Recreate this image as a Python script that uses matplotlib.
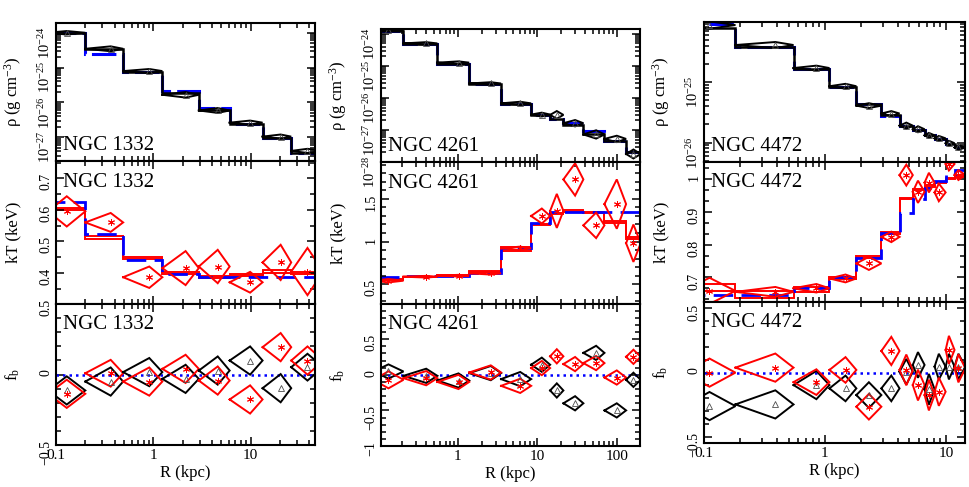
import numpy as np
import matplotlib.pyplot as plt
from matplotlib.ticker import MultipleLocator, FuncFormatter, NullFormatter, LogLocator

plt.rcParams['font.family'] = 'serif'
plt.rcParams['font.serif'] = ['Liberation Serif', 'DejaVu Serif']
plt.rcParams['mathtext.fontset'] = 'custom'
plt.rcParams['mathtext.rm'] = 'Liberation Serif'
plt.rcParams['mathtext.it'] = 'Liberation Serif:italic'

# ---- NGC 1332 ----
edges_1332 = [0.083, 0.2, 0.49, 1.24, 2.94, 6.1, 13.3, 26.2, 56]
rc_1332 = [0.129, 0.365, 0.91, 2.15, 4.6, 9.9, 20.4, 38.5]
rho_mod_1332 = [-24.0, -24.48, -25.12, -25.74, -26.22, -26.62, -27.03, -27.44]
rho_blue_1332 = [-24.0, -24.62, -25.12, -25.66, -26.15, -26.62, -27.03, -27.44]
rho_obs_1332 = [-24.0, -24.46, -25.10, -25.78, -26.23, -26.58, -26.98, -27.39]
rho_err_1332 = [0.05, 0.07, 0.06, 0.08, 0.07, 0.06, 0.06, 0.06]
kt_hi_1332 = [0.607, 0.516, 0.451, 0.403, 0.390, 0.396, 0.408, 0.403]
kt_lo_1332 = [0.600, 0.508, 0.443, 0.396, 0.383, 0.390, 0.401, 0.396]
kt_blue_1332 = [0.625, 0.523, 0.442, 0.397, 0.388, 0.388, 0.388, 0.388]
kt_obs_1332 = [0.595, 0.560, 0.386, 0.415, 0.420, 0.370, 0.433, 0.404]
kt_err_1332 = [0.048, 0.030, 0.034, 0.054, 0.053, 0.033, 0.056, 0.075]
fb_tri_1332 = [-0.113, -0.05, 0.017, -0.031, 0.028, 0.099, -0.097, 0.052]
fb_tri_err_1332 = [0.10, 0.10, 0.10, 0.10, 0.10, 0.10, 0.10, 0.095]
fb_star_1332 = [-0.137, 0.009, -0.05, 0.04, -0.043, -0.177, 0.194, 0.099]
fb_star_err_1332 = [0.10, 0.095, 0.10, 0.10, 0.10, 0.10, 0.10, 0.10]

# ---- NGC 4261 ----
edges_4261 = [0.087, 0.207, 0.553, 1.39, 3.5, 8.36, 14.5, 21.3, 38, 70, 131, 200]
rc_4261 = [0.134, 0.40, 1.02, 2.6, 6.1, 11.4, 17.6, 29.9, 55, 100, 162]
rho_mod_4261 = [-23.90, -24.32, -24.93, -25.58, -26.20, -26.54, -26.66, -26.85, -27.13, -27.33, -27.69]
rho_blue_4261 = [-23.90, -24.32, -24.93, -25.58, -26.20, -26.54, -26.66, -26.79, -27.04, -27.33, -27.69]
rho_obs_4261 = [-23.88, -24.30, -24.90, -25.55, -26.17, -26.52, -26.53, -26.79, -27.14, -27.28, -27.75]
rho_err_4261 = [0.03, 0.04, 0.04, 0.04, 0.05, 0.06, 0.12, 0.10, 0.13, 0.10, 0.14]
kt_hi_4261 = [0.555, 0.585, 0.604, 0.652, 0.93, 1.21, 1.34, 1.37, 1.35, 1.24, 1.05]
kt_lo_4261 = [0.545, 0.577, 0.596, 0.640, 0.89, 1.19, 1.32, 1.35, 1.33, 1.22, 1.03]
kt_blue_4261 = [0.579, 0.59, 0.60, 0.633, 0.92, 1.22, 1.35, 1.35, 1.35, 1.35, 1.35]
kt_obs_4261 = [0.539, 0.586, 0.598, 0.626, 0.92, 1.30, 1.36, 1.73, 1.19, 1.44, 0.98]
kt_err_4261 = [0.02, 0.01, 0.01, 0.015, 0.02, 0.088, 0.20, 0.19, 0.15, 0.29, 0.22]
fb_tri_4261 = [0.047, -0.014, -0.08, 0.024, -0.06, 0.142, -0.22, -0.40, 0.308, -0.50, -0.07]
fb_tri_err_4261 = [0.10, 0.10, 0.10, 0.10, 0.10, 0.10, 0.10, 0.10, 0.10, 0.10, 0.10]
fb_star_4261 = [-0.07, -0.047, -0.10, 0.033, -0.155, 0.095, 0.26, 0.151, 0.165, -0.038, 0.253]
fb_star_err_4261 = [0.12, 0.10, 0.10, 0.10, 0.10, 0.10, 0.10, 0.10, 0.10, 0.10, 0.10]

# ---- NGC 4472 ----
edges_4472 = [0.068, 0.182, 0.55, 1.09, 1.82, 2.93, 4.14, 5.33, 6.67, 8.07, 9.96, 11.8, 14.5]
rc_4472 = [0.111, 0.389, 0.85, 1.48, 2.31, 3.54, 4.71, 5.88, 7.24, 8.75, 10.6, 12.7]
rho_mod_4472 = [-24.11, -24.42, -24.78, -25.08, -25.37, -25.54, -25.72, -25.79, -25.88, -25.94, -26.02, -26.08]
rho_blue_4472 = [-24.05, -24.42, -24.78, -25.08, -25.37, -25.56, -25.72, -25.79, -25.88, -25.94, -26.02, -26.08]
rho_obs_4472 = [-24.06, -24.39, -24.77, -25.07, -25.39, -25.52, -25.72, -25.78, -25.88, -25.93, -26.01, -26.08]
rho_err_4472 = [0.06, 0.05, 0.04, 0.04, 0.04, 0.04, 0.05, 0.05, 0.04, 0.04, 0.04, 0.04]
kt_hi_4472 = [0.679, 0.658, 0.672, 0.700, 0.765, 0.838, 0.944, 0.971, 0.982, 0.992, 1.005, 1.012]
kt_lo_4472 = [0.660, 0.638, 0.655, 0.695, 0.760, 0.833, 0.940, 0.967, 0.978, 0.988, 1.001, 1.008]
kt_blue_4472 = [0.647, 0.647, 0.667, 0.70, 0.761, 0.837, 0.898, 0.939, 0.972, 0.996, 1.016, 1.03]
kt_obs_4472 = [0.659, 0.656, 0.667, 0.697, 0.743, 0.824, 1.013, 0.962, 0.99, 0.96, 1.047, 1.013]
kt_err_4472 = [0.04, 0.015, 0.013, 0.012, 0.02, 0.016, 0.032, 0.034, 0.03, 0.027, 0.02, 0.015]
fb_tri_4472 = [-0.262, -0.249, -0.098, -0.124, -0.176, -0.124, 0.006, 0.059, -0.131, 0.046, 0.046, 0.046]
fb_tri_err_4472 = [0.11, 0.11, 0.11, 0.10, 0.10, 0.10, 0.10, 0.10, 0.12, 0.10, 0.10, 0.10]
fb_star_4472 = [-0.001, 0.038, -0.075, 0.02, -0.267, 0.168, 0.02, -0.098, -0.176, -0.15, 0.176, 0.033]
fb_star_err_4472 = [0.11, 0.11, 0.10, 0.10, 0.10, 0.11, 0.12, 0.12, 0.12, 0.11, 0.11, 0.11]

galaxies = [
    dict(name='NGC 1332', edges=edges_1332, rc=rc_1332,
         rho_mod=rho_mod_1332, rho_blue=rho_blue_1332, rho_obs=rho_obs_1332, rho_err=rho_err_1332,
         kt_hi=kt_hi_1332, kt_lo=kt_lo_1332, kt_blue=kt_blue_1332, kt_obs=kt_obs_1332, kt_err=kt_err_1332,
         fb_tri=fb_tri_1332, fb_tri_err=fb_tri_err_1332, fb_star=fb_star_1332, fb_star_err=fb_star_err_1332,
         xlim=(0.1, 46), rholim=(-27.68, -23.72), ktlim=(0.301, 0.755), ktmaj=0.1, ktmin=0.05,
         fblim=(-0.5, 0.5), cols=(56, 315), rows=(23, 161, 304, 445)),
    dict(name='NGC 4261', edges=edges_4261, rc=rc_4261,
         rho_mod=rho_mod_4261, rho_blue=rho_blue_4261, rho_obs=rho_obs_4261, rho_err=rho_err_4261,
         kt_hi=kt_hi_4261, kt_lo=kt_lo_4261, kt_blue=kt_blue_4261, kt_obs=kt_obs_4261, kt_err=kt_err_4261,
         fb_tri=fb_tri_4261, fb_tri_err=fb_tri_err_4261, fb_star=fb_star_4261, fb_star_err=fb_star_err_4261,
         xlim=(0.108, 196), rholim=(-28.0, -23.85), ktlim=(0.265, 1.935), ktmaj=0.5, ktmin=0.1,
         fblim=(-1.0, 0.995), cols=(381, 640), rows=(29, 162, 304, 446)),
    dict(name='NGC 4472', edges=edges_4472, rc=rc_4472,
         rho_mod=rho_mod_4472, rho_blue=rho_blue_4472, rho_obs=rho_obs_4472, rho_err=rho_err_4472,
         kt_hi=kt_hi_4472, kt_lo=kt_lo_4472, kt_blue=kt_blue_4472, kt_obs=kt_obs_4472, kt_err=kt_err_4472,
         fb_tri=fb_tri_4472, fb_tri_err=fb_tri_err_4472, fb_star=fb_star_4472, fb_star_err=fb_star_err_4472,
         xlim=(0.1, 14.4), rholim=(-26.32, -24.01), ktlim=(0.625, 1.053), ktmaj=0.1, ktmin=0.1 / 3,
         fblim=(-0.55, 0.55), cols=(704, 965), rows=(22, 162, 302, 443)),
]

RED = '#ff0000'
BLUE = '#0000ff'
W, H = 969, 487
num_fmt = FuncFormatter(lambda v, p: ('%g' % v).replace('-', '\u2212'))


def diamond(ax, lo, c, hi, y, e, color, log=False):
    if log:
        ys = [10**y, 10**(y + e), 10**y, 10**(y - e), 10**y]
    else:
        ys = [y, y + e, y, y - e, y]
    ax.plot([lo, c, hi, c, lo], ys, color=color, lw=1.4, solid_joinstyle='miter')


def style(ax, g, ysize=10):
    ax.set_xscale('log')
    ax.set_xlim(*g['xlim'])
    ax.xaxis.set_major_formatter(num_fmt)
    ax.xaxis.set_minor_formatter(NullFormatter())
    ax.tick_params(which='both', direction='in', top=True, right=True, width=1.1)
    ax.tick_params(which='major', length=6)
    ax.tick_params(which='minor', length=3.5)
    ax.tick_params(axis='x', labelsize=11, pad=3)
    ax.tick_params(axis='y', labelrotation=90, labelsize=ysize, pad=2.5)
    for s in ax.spines.values():
        s.set_linewidth(1.5)


def ylab(ax, text, width):
    ax.set_ylabel(text, fontsize=12, va='center')
    ax.yaxis.set_label_coords(-43 / width, 0.5)


fig = plt.figure(figsize=(9.69, 4.87), dpi=100)

for g in galaxies:
    x0, x1 = g['cols']
    r0, r1, r2, r3 = g['rows']
    edges = g['edges']
    n = len(g['rc'])
    wpx = x1 - x0

    # density
    ax = fig.add_axes([x0 / W, 1 - r1 / H, wpx / W, (r1 - r0) / H])
    style(ax, g, ysize=10.5)
    ax.set_yscale('log')
    ax.set_ylim(10**g['rholim'][0], 10**g['rholim'][1])
    ax.yaxis.set_major_locator(LogLocator(base=10, numticks=20))
    ax.yaxis.set_minor_locator(LogLocator(base=10, subs=np.arange(2, 10), numticks=20))
    ax.yaxis.set_minor_formatter(NullFormatter())
    ax.stairs([10**v for v in g['rho_blue']], edges, color=BLUE, lw=2.2, linestyle=(0, (8, 2)))
    ax.stairs([10**v for v in g['rho_mod']], edges, color='black', lw=1.8)
    for i in range(n):
        diamond(ax, edges[i], g['rc'][i], edges[i + 1], g['rho_obs'][i], g['rho_err'][i], 'black', log=True)
    ax.plot(g['rc'], [10**v for v in g['rho_obs']], '^', ms=4, mfc='none', mec='0.3', mew=0.6)
    ax.tick_params(labelbottom=False)
    ylab(ax, '\u03c1 (g cm$^{-3}$)', wpx)
    ax.text(0.027, 0.08, g['name'], transform=ax.transAxes, fontsize=15)

    # temperature
    ax = fig.add_axes([x0 / W, 1 - r2 / H, wpx / W, (r2 - r1) / H])
    style(ax, g)
    ax.set_ylim(*g['ktlim'])
    ax.yaxis.set_major_locator(MultipleLocator(g['ktmaj']))
    ax.yaxis.set_minor_locator(MultipleLocator(g['ktmin']))
    ax.yaxis.set_major_formatter(num_fmt)
    ax.stairs(g['kt_hi'], edges, color=RED, lw=1.4)
    ax.stairs(g['kt_lo'], edges, color=RED, lw=1.4)
    for i in range(n):
        diamond(ax, edges[i], g['rc'][i], edges[i + 1], g['kt_obs'][i], g['kt_err'][i], RED)
    ax.plot(g['rc'], g['kt_obs'], marker=(6, 2, 0), ls='none', ms=5, color=RED, mew=0.7)
    ax.stairs(g['kt_blue'], edges, color=BLUE, lw=2.0, linestyle=(0, (7, 3)))
    ax.tick_params(labelbottom=False)
    ylab(ax, 'kT (keV)', wpx)
    ax.text(0.027, 0.82, g['name'], transform=ax.transAxes, fontsize=15)

    # baryon fraction deviation
    ax = fig.add_axes([x0 / W, 1 - r3 / H, wpx / W, (r3 - r2) / H])
    style(ax, g)
    ax.set_ylim(*g['fblim'])
    ax.yaxis.set_major_locator(MultipleLocator(0.5))
    ax.yaxis.set_minor_locator(MultipleLocator(0.1))
    ax.yaxis.set_major_formatter(num_fmt)
    ax.axhline(0, color=BLUE, lw=1.8, linestyle=(0, (1, 1.6)))
    for i in range(n):
        diamond(ax, edges[i], g['rc'][i], edges[i + 1], g['fb_tri'][i], g['fb_tri_err'][i], 'black')
        diamond(ax, edges[i], g['rc'][i], edges[i + 1], g['fb_star'][i], g['fb_star_err'][i], RED)
    ax.plot(g['rc'], g['fb_tri'], '^', ms=5, mfc='none', mec='0.3', mew=0.6)
    ax.plot(g['rc'], g['fb_star'], marker=(6, 2, 0), ls='none', ms=5, color=RED, mew=0.7)
    ax.set_xlabel('R (kpc)', fontsize=12, labelpad=2)
    ylab(ax, 'f$_{\\rm b}$', wpx)
    ax.text(0.027, 0.823, g['name'], transform=ax.transAxes, fontsize=15)

fig.savefig('out.png', dpi=100)
